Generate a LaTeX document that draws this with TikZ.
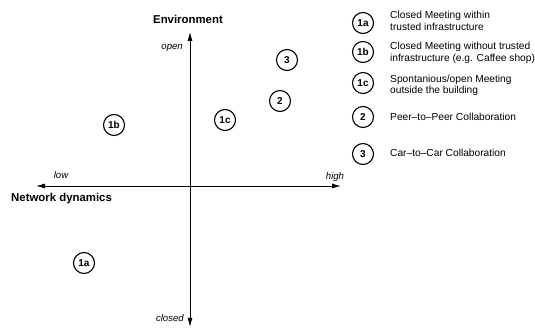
\documentclass[tikz,border=0pt]{standalone}
\usepackage{fontspec}
\setmainfont{Liberation Sans}
\usetikzlibrary{arrows.meta}
\begin{document}
\begin{tikzpicture}[x=1pt,y=-1pt,
  numcirc/.style={circle,draw,line width=1.1pt,minimum size=21pt,inner sep=0pt,font=\fontsize{10}{12}\selectfont\bfseries},
  legtext/.style={anchor=west,align=left,inner sep=0pt,font=\fontsize{10.2}{11.5}\selectfont},
  axislabel/.style={font=\fontsize{11.4}{13}\selectfont\bfseries,inner sep=0pt},
  ticklabel/.style={font=\fontsize{9.6}{11}\selectfont\itshape,inner sep=0pt},
  axis/.style={line width=0.9pt,{Latex[length=9pt,width=5pt]}-{Latex[length=9pt,width=5pt]}}]
\useasboundingbox (0,0) rectangle (535,328);
% axes
\coordinate (top) at (190,32);
\coordinate (bottom) at (190,327);
\coordinate (left) at (36,186);
\coordinate (right) at (341,186);
\draw[axis] (bottom) -- (top);
\draw[axis] (left) -- (right);
% axis labels
\node[axislabel] (env) at (188,19) {Environment};
\node[axislabel,anchor=west] (nd) at (11,199) {Network dynamics};
\node[ticklabel,anchor=east] (open) at (183,48) {open};
\node[ticklabel,anchor=east] (closed) at (184,318) {closed};
\node[ticklabel] (low) at (61,175) {low};
\node[ticklabel] (high) at (335,177) {high};
% plotted points
\node[numcirc] (p3) at (287,60) {3};
\node[numcirc] (p2) at (280,101) {2};
\node[numcirc] (p1c) at (225,120) {1c};
\node[numcirc] (p1b) at (114,125) {1b};
\node[numcirc] (p1a) at (84,263) {1a};
% legend
\node[numcirc] (l1a) at (363,23) {1a};
\node[numcirc] (l1b) at (363,52) {1b};
\node[numcirc] (l1c) at (363,83) {1c};
\node[numcirc] (l2) at (363,117) {2};
\node[numcirc] (l3) at (363,154) {3};
\node[legtext] (t1a) at (390,21) {Closed Meeting within\\trusted infrastructure};
\node[legtext] (t1b) at (390,53) {Closed Meeting without trusted\\infrastructure (e.g. Caffee shop)};
\node[legtext] (t1c) at (390,85.5) {Spontanious/open Meeting\\outside the building};
\node[legtext] (t2) at (390,117) {Peer--to--Peer Collaboration};
\node[legtext] (t3) at (390,153) {Car--to--Car Collaboration};
\end{tikzpicture}
\end{document}
